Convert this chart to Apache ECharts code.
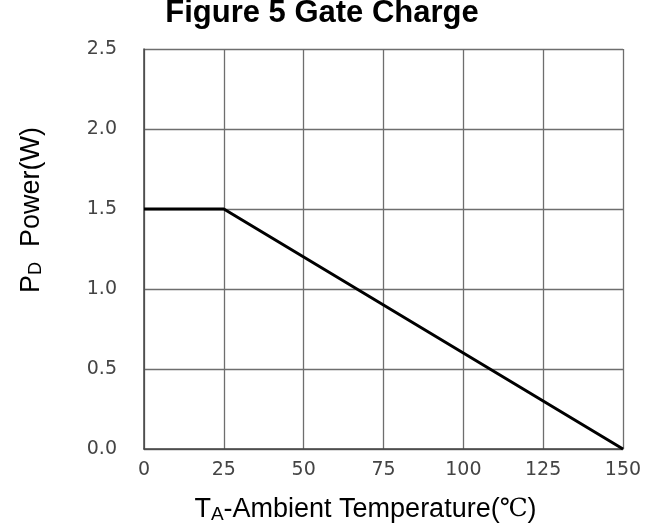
<!DOCTYPE html>
<html>
<head>
<meta charset="utf-8">
<script src="https://cdn.jsdelivr.net/npm/echarts@6/dist/echarts.min.js"></script>
<style>
  html, body { margin: 0; padding: 0; background: #fff; }
  #chart { width: 669px; height: 525px; }
</style>
</head>
<body>
<div id="chart"></div>
<script>
  // derating curve: temperature (°C) vs power (W)
  const temps = [0, 25, 150]
  const power = [1.5, 1.5, 0]
  const xTicks = [0, 25, 50, 75, 100, 125, 150]
  const yTicks = [0, 0.5, 1.0, 1.5, 2.0, 2.5]

  const chart = echarts.init(document.getElementById('chart'))
  const gridColor = '#6e6e6e'
  const labelColor = '#444'

  chart.setOption({
    animation: false,
    title: {
      text: 'Figure 5 Gate Charge',
      left: 317,
      textAlign: 'center',
      top: -7,
      textStyle: {
        fontFamily: 'Liberation Sans',
        fontSize: 31,
        fontWeight: 'bold',
        color: '#000',
      },
    },
    grid: {
      left: 144,
      right: 46,
      top: 49,
      bottom: 76,
      outerBoundsMode: 'none',
    },
    xAxis: {
      type: 'value',
      min: xTicks[0],
      max: xTicks[xTicks.length - 1],
      interval: 25,
      name: '{t|T}{s|A}{t|-Ambient Temperature(}{c|℃}{t|)}',
      nameLocation: 'middle',
      nameGap: 46,
      nameTextStyle: {
        padding: [0, 36, 0, 0],
        rich: {
          t: { fontFamily: 'Liberation Sans', fontSize: 27, color: '#000' },
          s: { fontFamily: 'Liberation Sans', fontSize: 19, color: '#000', padding: [10, 0, 0, 0] },
          c: { fontFamily: 'DejaVu Serif', fontSize: 25, color: '#000' },
        },
      },
      axisLine: { lineStyle: { color: '#444', width: 1.5 } },
      axisTick: { show: false },
      axisLabel: {
        color: labelColor,
        fontFamily: 'DejaVu Sans',
        fontSize: 19,
        margin: 12,
      },
      splitLine: { show: true, lineStyle: { color: gridColor, width: 1.3 } },
    },
    yAxis: {
      type: 'value',
      min: yTicks[0],
      max: yTicks[yTicks.length - 1],
      interval: 0.5,
      axisLine: { show: true, lineStyle: { color: '#444', width: 1.5 } },
      axisTick: { show: false },
      axisLabel: {
        color: labelColor,
        fontFamily: 'DejaVu Sans',
        fontSize: 19,
        margin: 27,
        formatter: (v) => v.toFixed(1),
      },
      splitLine: { show: true, lineStyle: { color: gridColor, width: 1.3 } },
    },
    graphic: [
      {
        type: 'text',
        left: 18,
        top: 127,
        rotation: Math.PI / 2,
        style: {
          text: '{t|P}{s|D}{t|  Power(W)}',
          rich: {
            t: { fontFamily: 'Liberation Sans', fontSize: 27, fill: '#000' },
            s: { fontFamily: 'Liberation Sans', fontSize: 18, fill: '#000', padding: [10, 0, 0, 0] },
          },
        },
      },
    ],
    series: [
      {
        type: 'line',
        data: temps.map((t, i) => [t, power[i]]),
        symbol: 'none',
        lineStyle: { color: '#000', width: 3 },
      },
    ],
  })
</script>
</body>
</html>
